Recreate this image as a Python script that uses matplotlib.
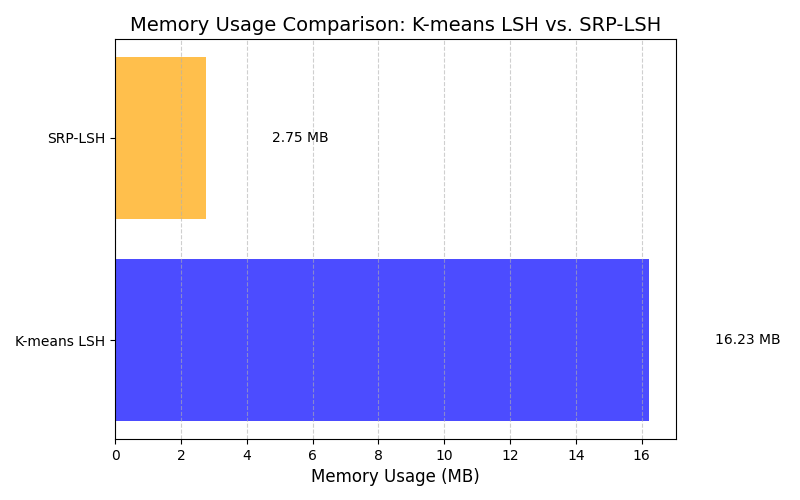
import matplotlib
matplotlib.use("Agg")
import matplotlib.pyplot as plt

methods = ["K-means LSH", "SRP-LSH"]
memory_mb = [16.23, 2.75]
bar_colors = ["blue", "orange"]

fig, ax = plt.subplots(figsize=(8, 5), dpi=100)
bars = ax.barh(methods, memory_mb, color=bar_colors, alpha=0.7)

# value labels to the right of each bar
for i, v in enumerate(memory_mb):
    ax.text(v + 2, i, f"{v:.2f} MB", va="center", fontsize=10)

ax.set_xlabel("Memory Usage (MB)", fontsize=12)
ax.set_title("Memory Usage Comparison: K-means LSH vs. SRP-LSH", fontsize=14)
ax.grid(axis="x", linestyle="--", alpha=0.6)

plt.subplots_adjust(left=0.144, right=0.845, top=0.922, bottom=0.122)
plt.savefig("out.png")
